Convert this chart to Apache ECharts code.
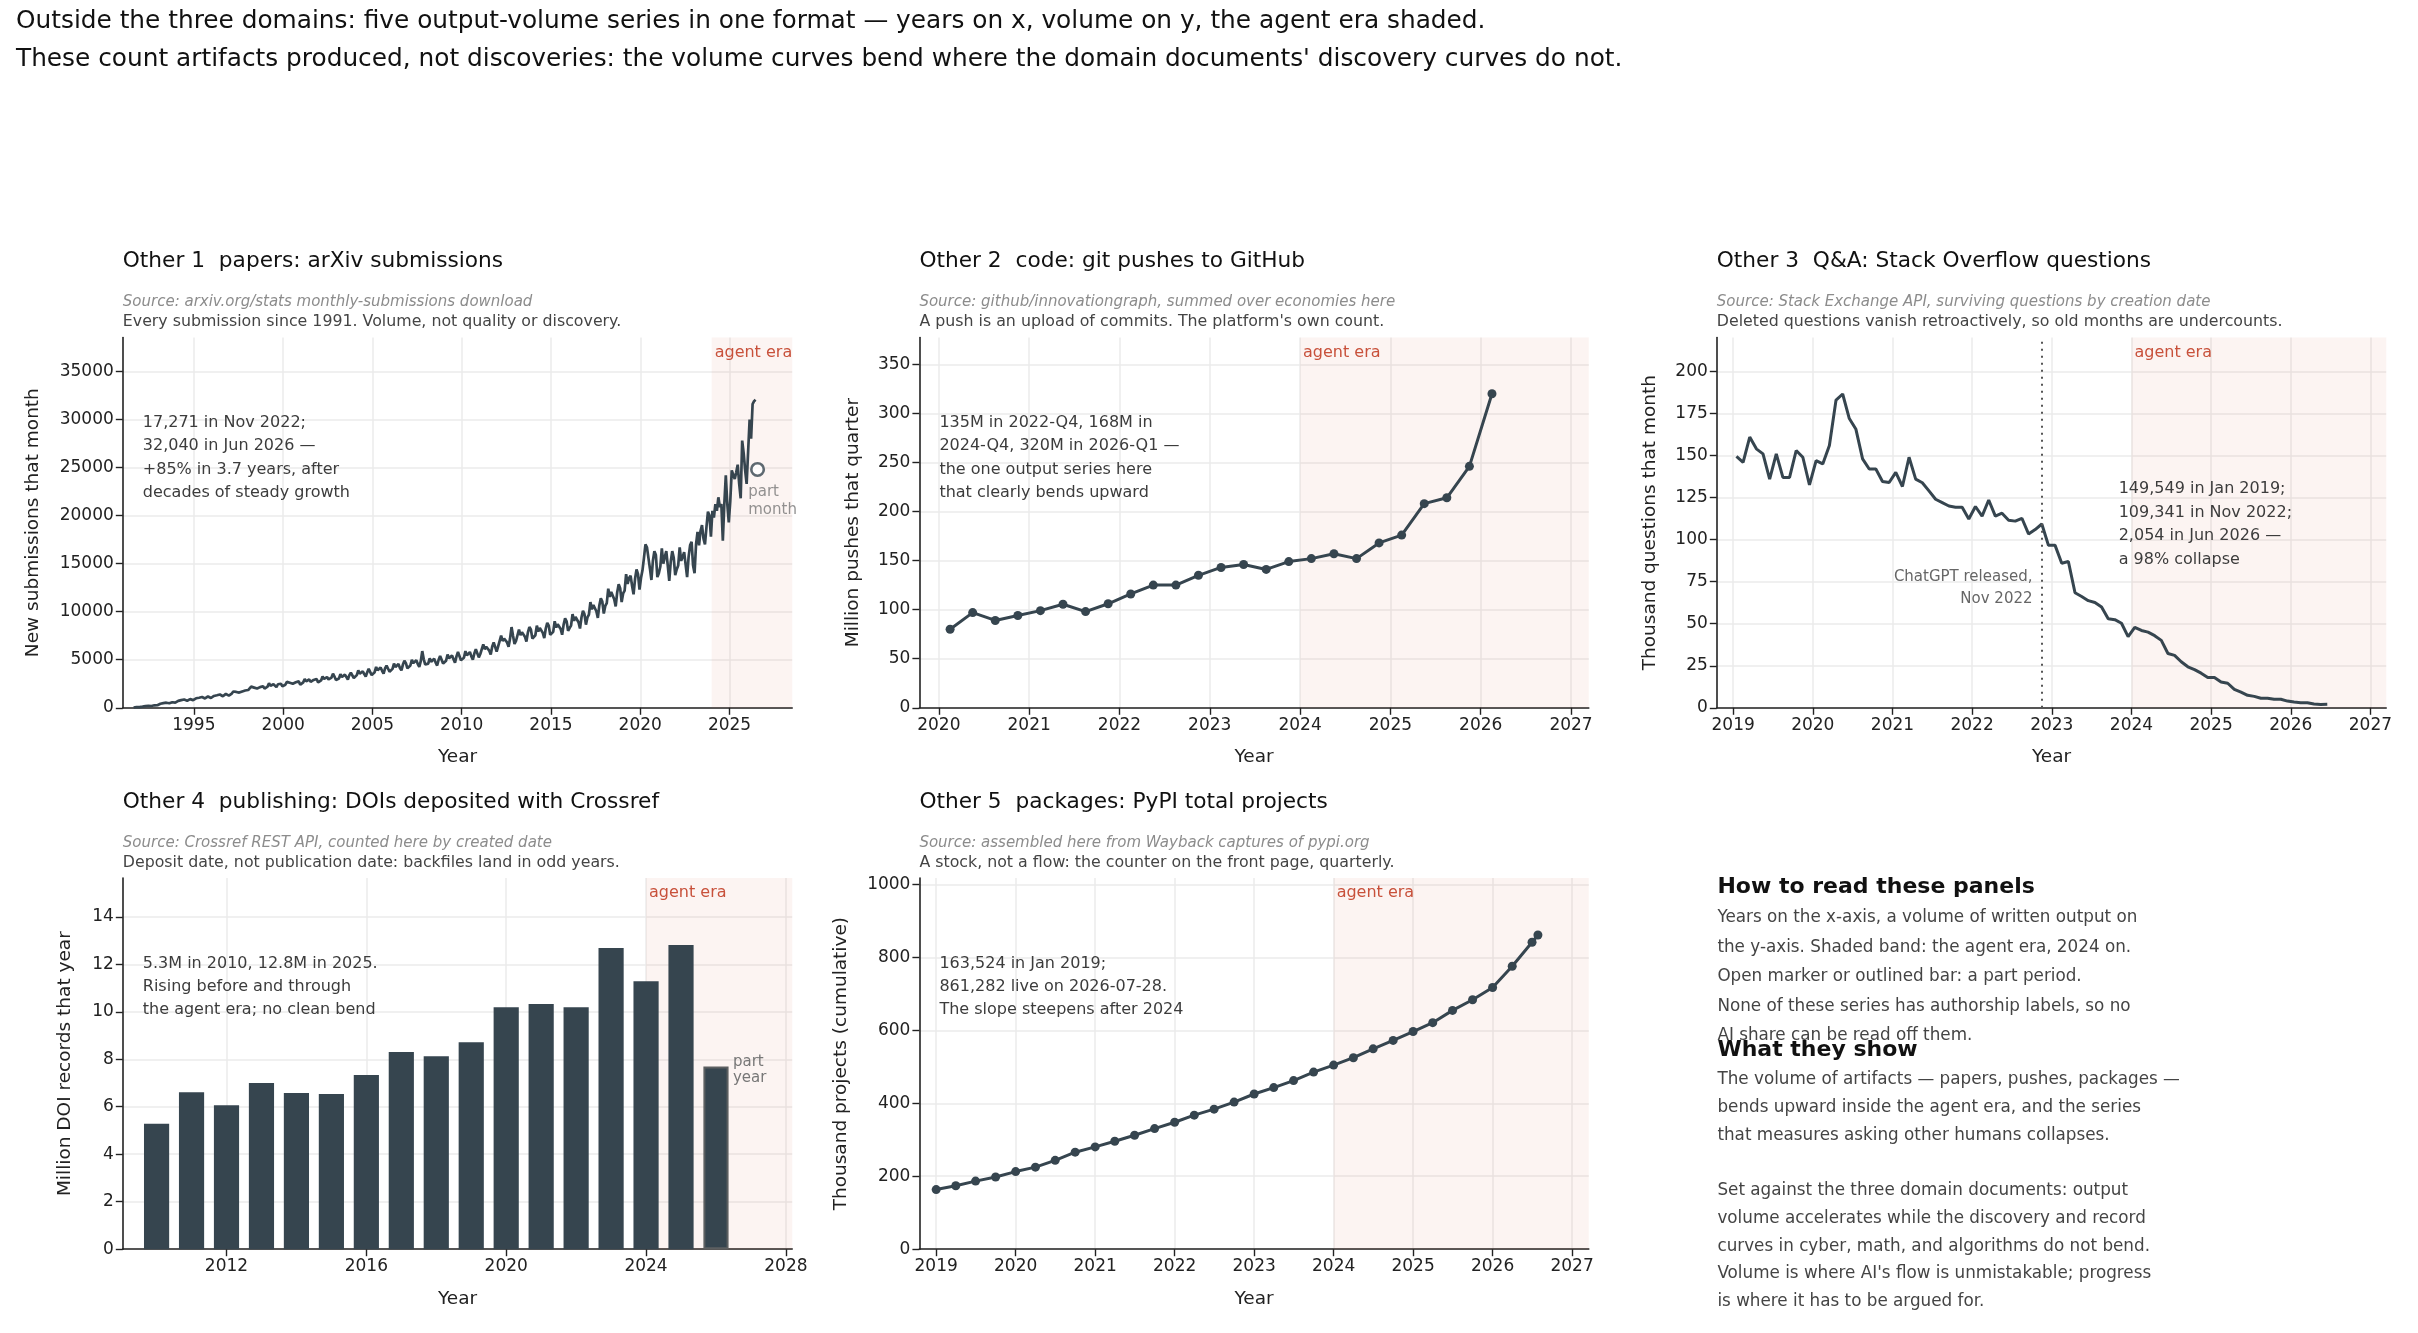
<!DOCTYPE html>
<html><head><meta charset="utf-8">
<script src="https://cdn.jsdelivr.net/npm/echarts@6/dist/echarts.min.js"></script>
<style>html,body{margin:0;padding:0;background:#fff}#c{width:2418px;height:1333px}</style>
</head><body><div id="c"></div>
<script>
// ---------------- DATA ----------------
const arxivStart = [1991, 8];
const arxivMonthly = [
  27, 58, 76, 64, 78,
  95, 120, 160, 170, 190, 210, 200, 190, 230, 260, 280, 270,
  400, 420, 500, 480, 510, 530, 500, 470, 540, 580, 570, 530,
  690, 720, 840, 800, 830, 860, 790, 740, 860, 900, 880, 800,
  960, 990, 1130, 1050, 1100, 1120, 1030, 970, 1090, 1180, 1150, 1020,
  1180, 1230, 1400, 1300, 1350, 1380, 1280, 1200, 1350, 1450, 1420, 1270,
  1430, 1480, 1700, 1570, 1650, 1680, 1580, 1480, 1700, 1850, 1800, 1600,
  1850, 1900, 2200, 2000, 2100, 2150, 2000, 1880, 2150, 2330, 2250, 2000,
  2150, 2200, 2550, 2300, 2400, 2450, 2300, 2150, 2450, 2600, 2500, 2250,
  2350, 2400, 2700, 2500, 2600, 2650, 2500, 2300, 2650, 2800, 2750, 2400,
  2550, 2650, 3000, 2750, 2900, 2950, 2700, 2500, 2900, 3100, 3000, 2650,
  2800, 2850, 3250, 3000, 3100, 3200, 2950, 2750, 3150, 3550, 3250, 2900,
  3000, 3050, 3500, 3200, 3300, 3450, 3200, 2950, 3400, 3650, 3500, 3100,
  3300, 3400, 3900, 3550, 3700, 3800, 3500, 3250, 3700, 4050, 3900, 3400,
  3600, 3700, 4250, 3900, 4050, 4200, 3850, 3550, 4100, 4400, 4250, 3750,
  3950, 4050, 4600, 4250, 4400, 4550, 4150, 3900, 4500, 4900, 4650, 4100,
  4300, 4400, 5000, 4650, 4800, 4950, 4550, 4250, 4850, 5900, 5050, 4500,
  4450, 4600, 5150, 4800, 5000, 5100, 4700, 4400, 5000, 5400, 5200, 4600,
  4750, 4900, 5550, 5150, 5350, 5450, 5050, 4700, 5350, 5800, 5600, 4950,
  5050, 5200, 5900, 5450, 5650, 5800, 5350, 5000, 5650, 6100, 5950, 5250,
  5600, 5800, 6600, 6100, 6350, 6450, 5950, 5550, 6350, 6800, 6650, 5850,
  6400, 6600, 7500, 6950, 7200, 7350, 6800, 6350, 7200, 8400, 7500, 6650,
  6950, 7150, 8150, 7550, 7850, 8000, 7400, 6900, 7850, 8400, 8150, 7200,
  7300, 7550, 8550, 7950, 8300, 8450, 7800, 7250, 8250, 8850, 8550, 7600,
  7700, 7900, 9000, 8350, 8700, 8900, 8200, 7600, 8650, 9300, 9000, 8000,
  8300, 8550, 9750, 9050, 9450, 9650, 8900, 8250, 9400, 10100, 9750, 8650,
  9400, 9700, 11000, 10250, 10700, 10900, 10050, 9350, 10650, 11400, 11050, 9800,
  10600, 10900, 12400, 11550, 12050, 12250, 11300, 10550, 12000, 12850, 12450, 11000,
  11900, 12200, 13900, 12900, 13500, 13750, 12700, 11800, 13400, 14400, 13900, 12300,
  13500, 14300, 15600, 17000, 16700, 15600, 14500, 13300, 15300, 16300, 15900, 13600,
  14000, 14700, 16600, 15000, 15700, 16300, 14800, 13200, 15200, 16300, 15600, 13800,
  14400, 14800, 16700, 15300, 15700, 16200, 14900, 13600, 15700, 16900, 17271, 14800,
  14000, 17000, 18300, 16900, 18400, 19000, 17600, 17000, 18800, 20400, 20000, 17800,
  20500, 19800, 21200, 20500, 21900, 20900, 21200, 17400, 21200, 24200, 21200, 19300,
  21500, 24700, 24600, 23800, 24500, 25300, 23300, 21800, 27800, 26500, 24700, 23300,
  23500, 30000, 28000, 31600, 31900, 32040
];
const arxivPartDate = '2026-07-28';
const arxivPartValue = 24800;

const pushesStart = [2020, 1];
const pushesQuarterly = [80, 97, 89, 94, 99, 105.5, 98, 106, 116, 125, 125, 135,
  143, 146, 141, 149, 152, 157, 152, 168, 176, 208, 214, 246, 320];

const soStart = [2019, 1];
const soMonthly = [
  149.5, 146, 161, 154, 151, 136, 151, 137, 137, 153, 149, 132.5,
  147, 145, 156, 183, 186.6, 172, 165.6, 148, 142, 142, 134.6, 134,
  140, 131.6, 149, 136, 133.8, 129, 124, 122, 120, 119.3, 119.3, 112.3,
  119.7, 114, 123.6, 114, 115.7, 111.5, 111, 112.7, 103.4, 106, 109.3, 96.6,
  96.6, 86, 87, 68.4, 66.2, 63.7, 62.6, 59.9, 52.9, 52.4, 50.3, 42.3,
  47.8, 46, 45, 42.9, 40.1, 32.3, 31.2, 27.4, 24.4, 22.7, 20.6, 18,
  18, 15.3, 14.6, 11, 9.3, 7.4, 6.8, 5.7, 5.7, 5.1, 5.1, 4,
  3.4, 3, 3, 2.3, 1.9, 2.05
];
const chatgptMonth = [2022, 11];

const doiYears = [2010, 2011, 2012, 2013, 2014, 2015, 2016, 2017, 2018, 2019, 2020, 2021, 2022, 2023, 2024, 2025, 2026];
const doiValues = [5.28, 6.61, 6.06, 7.0, 6.58, 6.54, 7.34, 8.31, 8.13, 8.72, 10.19, 10.33, 10.19, 12.69, 11.29, 12.81, 7.7];
const doiPartYear = 2026;

const pypiDates = ['2019-01-01','2019-04-01','2019-07-01','2019-10-01','2020-01-01','2020-04-01','2020-07-01','2020-10-01',
  '2021-01-01','2021-04-01','2021-07-01','2021-10-01','2022-01-01','2022-04-01','2022-07-01','2022-10-01',
  '2023-01-01','2023-04-01','2023-07-01','2023-10-01','2024-01-01','2024-04-01','2024-07-01','2024-10-01',
  '2025-01-01','2025-04-01','2025-07-01','2025-10-01','2026-01-01','2026-04-01','2026-07-01','2026-07-28'];
const pypiValues = [163.5, 174, 186.7, 198, 212.8, 225, 243.7, 266, 280.5, 296, 312.4, 330.7, 348, 367.5, 384, 403.3,
  425.5, 443, 462.3, 485.5, 504.8, 525, 549.3, 572.5, 596.7, 621, 654.7, 683.8, 717.6, 775.6, 841.4, 861.3];

const agentEraStart = 2024;

const ticksX1 = [1995, 2000, 2005, 2010, 2015, 2020, 2025];
const ticksY1 = [0, 5000, 10000, 15000, 20000, 25000, 30000, 35000];
const ticksX2 = [2020, 2021, 2022, 2023, 2024, 2025, 2026, 2027];
const ticksY2 = [0, 50, 100, 150, 200, 250, 300, 350];
const ticksX3 = [2019, 2020, 2021, 2022, 2023, 2024, 2025, 2026, 2027];
const ticksY3 = [0, 25, 50, 75, 100, 125, 150, 175, 200];
const ticksX4 = [2012, 2016, 2020, 2024, 2028];
const ticksY4 = [0, 2, 4, 6, 8, 10, 12, 14];
const ticksX5 = [2019, 2020, 2021, 2022, 2023, 2024, 2025, 2026, 2027];
const ticksY5 = [0, 200, 400, 600, 800, 1000];

// ---------------- HELPERS ----------------
const F = 'DejaVu Sans';
const INK = '#36454f';
const RED = '#c8513b';
const monthX = (y, m) => y + (m - 1) / 12 + 1 / 24;
const quarterX = (y, q) => y + (q - 1) / 4 + 1 / 8;
function dateX(s) {
  const [y, m, d] = s.split('-').map(Number);
  const t0 = Date.UTC(y, 0, 1), t1 = Date.UTC(y + 1, 0, 1), t = Date.UTC(y, m - 1, d);
  return y + (t - t0) / (t1 - t0);
}
function monthSeries(start, vals) {
  return vals.map((v, i) => {
    const k = (start[1] - 1) + i;
    return [monthX(start[0] + Math.floor(k / 12), (k % 12) + 1), v];
  });
}

const COLS = [122.8, 919.4, 1716.8];
const W = 669.4;
const ROWS = [{ top: 337.5, h: 370.3 }, { top: 878.1, h: 371.1 }];

const panels = [
  { col: 0, row: 0, xr: [1991.02, 2028.51], yr: [0, 38530], xt: ticksX1, yt: ticksY1, yname: 'New submissions that month', ygap: 80 },
  { col: 1, row: 0, xr: [2019.785, 2027.197], yr: [0, 377.3], xt: ticksX2, yt: ticksY2, yname: 'Million pushes that quarter', ygap: 57 },
  { col: 2, row: 0, xr: [2018.795, 2027.198], yr: [0, 220.2], xt: ticksX3, yt: ticksY3, yname: 'Thousand questions that month', ygap: 57 },
  { col: 0, row: 1, xr: [2009.034, 2028.18], yr: [0, 15.63], xt: ticksX4, yt: ticksY4, yname: 'Million DOI records that year', ygap: 48 },
  { col: 1, row: 1, xr: [2018.789, 2027.21], yr: [0, 1017.4], xt: ticksX5, yt: ticksY5, yname: 'Thousand projects (cumulative)', ygap: 69 }
];

const grids = [], xAxes = [], yAxes = [];
panels.forEach((p, i) => {
  grids.push({ left: COLS[p.col], top: ROWS[p.row].top, width: W, height: ROWS[p.row].h, containLabel: false });
  const common = {
    type: 'value', gridIndex: i,
    axisLine: { show: true, onZero: false, lineStyle: { color: '#222', width: 1.6 } },
    axisTick: { show: true, inside: false, length: 7, lineStyle: { color: '#222', width: 1.4 } },
    axisLabel: { fontSize: 17, color: '#222', fontFamily: F, margin: 9, formatter: v => String(v), hideOverlap: false },
    splitLine: { show: true, lineStyle: { color: '#ebebeb', width: 1.5 } },
    nameLocation: 'middle',
    nameTextStyle: { fontSize: 18.5, color: '#222', fontFamily: F }
  };
  xAxes.push(Object.assign({}, common, {
    min: p.xr[0], max: p.xr[1], name: 'Year', nameGap: 40,
    axisTick: Object.assign({}, common.axisTick, { customValues: p.xt }),
    axisLabel: Object.assign({}, common.axisLabel, { customValues: p.xt })
  }));
  yAxes.push(Object.assign({}, common, {
    min: p.yr[0], max: p.yr[1], name: p.yname, nameGap: p.ygap, nameRotate: 90,
    axisTick: Object.assign({}, common.axisTick, { customValues: p.yt }),
    axisLabel: Object.assign({}, common.axisLabel, { customValues: p.yt })
  }));
});

function band(i) {
  return {
    silent: true,
    itemStyle: { color: 'rgba(214,110,90,0.08)' },
    label: { show: true, position: 'insideTopLeft', distance: 3, offset: [0, 4], formatter: 'agent era', color: RED, fontSize: 16, fontFamily: F },
    data: [[{ xAxis: agentEraStart }, { xAxis: panels[i].xr[1] }]]
  };
}

const barW = 0.72 * W / (panels[3].xr[1] - panels[3].xr[0]);

const series = [
  { type: 'line', xAxisIndex: 0, yAxisIndex: 0, data: monthSeries(arxivStart, arxivMonthly), showSymbol: false, symbol: 'none',
    lineStyle: { color: INK, width: 2.7 }, z: 3, markArea: band(0) },
  { type: 'scatter', xAxisIndex: 0, yAxisIndex: 0, data: [[dateX(arxivPartDate), arxivPartValue]],
    symbol: 'circle', symbolSize: 12.5, z: 4,
    itemStyle: { color: '#ffffff', borderColor: INK, borderWidth: 2.6 },
    label: { show: true, formatter: 'part\nmonth', position: [-1.8, 21], align: 'left', verticalAlign: 'top', color: '#777', fontSize: 15, lineHeight: 18.4, fontFamily: F } },
  { type: 'line', xAxisIndex: 1, yAxisIndex: 1, data: pushesQuarterly.map((v, i) => [quarterX(pushesStart[0] + Math.floor(i / 4), (i % 4) + 1), v]),
    symbol: 'circle', symbolSize: 9, showSymbol: true, itemStyle: { color: INK }, lineStyle: { color: INK, width: 3 }, z: 3, markArea: band(1) },
  { type: 'line', xAxisIndex: 2, yAxisIndex: 2, data: monthSeries(soStart, soMonthly), symbol: 'none', showSymbol: false,
    lineStyle: { color: INK, width: 3 }, z: 3, markArea: band(2),
    markLine: { silent: true, symbol: 'none', label: { show: false },
      lineStyle: { color: '#555', type: [2, 5], width: 2 },
      data: [{ xAxis: monthX(chatgptMonth[0], chatgptMonth[1]) }] } },
  { type: 'bar', xAxisIndex: 3, yAxisIndex: 3, barWidth: barW, z: 3,
    data: doiYears.map((y, i) => y === doiPartYear ? {
      value: [y, doiValues[i]],
      itemStyle: { color: INK, borderColor: '#5c5f61', borderWidth: 2 },
      label: { show: true, formatter: 'part\nyear', position: [barW + 4.4, -12.2], align: 'left', verticalAlign: 'top', color: '#777', fontSize: 15, lineHeight: 16, fontFamily: F }
    } : { value: [y, doiValues[i]] }),
    itemStyle: { color: INK }, markArea: band(3) },
  { type: 'line', xAxisIndex: 4, yAxisIndex: 4, data: pypiDates.map((d, i) => [dateX(d), pypiValues[i]]),
    symbol: 'circle', symbolSize: 9, showSymbol: true, itemStyle: { color: INK }, lineStyle: { color: INK, width: 3 }, z: 3, markArea: band(4) }
];

// ---------------- TEXT ----------------
const titles = [
  'Other 1  papers: arXiv submissions',
  'Other 2  code: git pushes to GitHub',
  'Other 3  Q&A: Stack Overflow questions',
  'Other 4  publishing: DOIs deposited with Crossref',
  'Other 5  packages: PyPI total projects'
];
const sources = [
  'Source: arxiv.org/stats monthly-submissions download',
  'Source: github/innovationgraph, summed over economies here',
  'Source: Stack Exchange API, surviving questions by creation date',
  'Source: Crossref REST API, counted here by created date',
  'Source: assembled here from Wayback captures of pypi.org'
];
const descs = [
  'Every submission since 1991. Volume, not quality or discovery.',
  "A push is an upload of commits. The platform's own count.",
  'Deleted questions vanish retroactively, so old months are undercounts.',
  'Deposit date, not publication date: backfiles land in odd years.',
  'A stock, not a flow: the counter on the front page, quarterly.'
];
const notes = [
  '17,271 in Nov 2022;\n32,040 in Jun 2026 \u2014\n+85% in 3.7 years, after\ndecades of steady growth',
  '135M in 2022-Q4, 168M in\n2024-Q4, 320M in 2026-Q1 \u2014\nthe one output series here\nthat clearly bends upward',
  '149,549 in Jan 2019;\n109,341 in Nov 2022;\n2,054 in Jun 2026 \u2014\na 98% collapse',
  '5.3M in 2010, 12.8M in 2025.\nRising before and through\nthe agent era; no clean bend',
  '163,524 in Jan 2019;\n861,282 live on 2026-07-28.\nThe slope steepens after 2024'
];
const headline = [
  'Outside the three domains: five output-volume series in one format \u2014 years on x, volume on y, the agent era shaded.',
  "These count artifacts produced, not discoveries: the volume curves bend where the domain documents' discovery curves do not."
];
const howTitle = 'How to read these panels';
const howBody = 'Years on the x-axis, a volume of written output on\nthe y-axis. Shaded band: the agent era, 2024 on.\nOpen marker or outlined bar: a part period.\nNone of these series has authorship labels, so no\nAI share can be read off them.';
const whatTitle = 'What they show';
const whatBody = "The volume of artifacts \u2014 papers, pushes, packages \u2014\nbends upward inside the agent era, and the series\nthat measures asking other humans collapses.\n\nSet against the three domain documents: output\nvolume accelerates while the discovery and record\ncurves in cyber, math, and algorithms do not bend.\nVolume is where AI's flow is unmistakable; progress\nis where it has to be argued for.";

function txt(x, y, text, o) {
  return { type: 'text', x: x, y: y, silent: true, z: 10,
    style: Object.assign({ text: text, fontFamily: F, fontSize: 15.5, fill: '#444', align: 'left', verticalAlign: 'middle' }, o || {}) };
}
const graphics = [];
graphics.push(txt(16, 21.7, headline[0], { fontSize: 24.8, fill: '#111' }));
graphics.push(txt(16, 59.3, headline[1], { fontSize: 24.8, fill: '#111' }));
panels.forEach((p, i) => {
  const L = COLS[p.col], T = ROWS[p.row].top;
  graphics.push(txt(L, T - 76.1, titles[i], { fontSize: 21.7, fill: '#111' }));
  graphics.push(txt(L, T - 35.3, sources[i], { fontSize: 15, fill: '#8c8c8c', fontStyle: 'italic' }));
  graphics.push(txt(L, T - 15.2, descs[i], { fontSize: 15.8, fill: '#444' }));
  let nx = L + 20, ny = T + 85.5, lh = 23.2;
  if (i === 2) { nx = L + (2023.84 - p.xr[0]) / (p.xr[1] - p.xr[0]) * W; ny = T + 151.6; lh = 23.6; }
  graphics.push(txt(nx, ny - lh / 2, notes[i], { fontSize: 16, lineHeight: lh, verticalAlign: 'top', fill: '#3c3c3c' }));
});
// ChatGPT label next to the dotted line
(function () {
  const p = panels[2], L = COLS[p.col];
  const lx = L + (monthX(chatgptMonth[0], chatgptMonth[1]) - p.xr[0]) / (p.xr[1] - p.xr[0]) * W;
  graphics.push(txt(lx - 9.3, 577.4 - 10.9, 'ChatGPT released,\nNov 2022', { fontSize: 15, lineHeight: 21.8, align: 'right', verticalAlign: 'top', fill: '#666' }));
})();
graphics.push(txt(1717.4, 887, howTitle, { fontSize: 22, fontWeight: 'bold', fill: '#111' }));
graphics.push(txt(1717.4, 917.7 - 14.8, howBody, { fontSize: 16.8, lineHeight: 29.6, verticalAlign: 'top', fill: '#444' }));
graphics.push(txt(1717.4, 1050.7, whatTitle, { fontSize: 22, fontWeight: 'bold', fill: '#111' }));
graphics.push(txt(1717.4, 1080 - 13.85, whatBody, { fontSize: 16.8, lineHeight: 27.7, verticalAlign: 'top', fill: '#444' }));

const chart = echarts.init(document.getElementById('c'), null, { renderer: 'canvas', width: 2418, height: 1333 });
chart.setOption({
  animation: false,
  backgroundColor: '#ffffff',
  textStyle: { fontFamily: F },
  grid: grids, xAxis: xAxes, yAxis: yAxes, series: series, graphic: graphics
});
</script></body></html>
